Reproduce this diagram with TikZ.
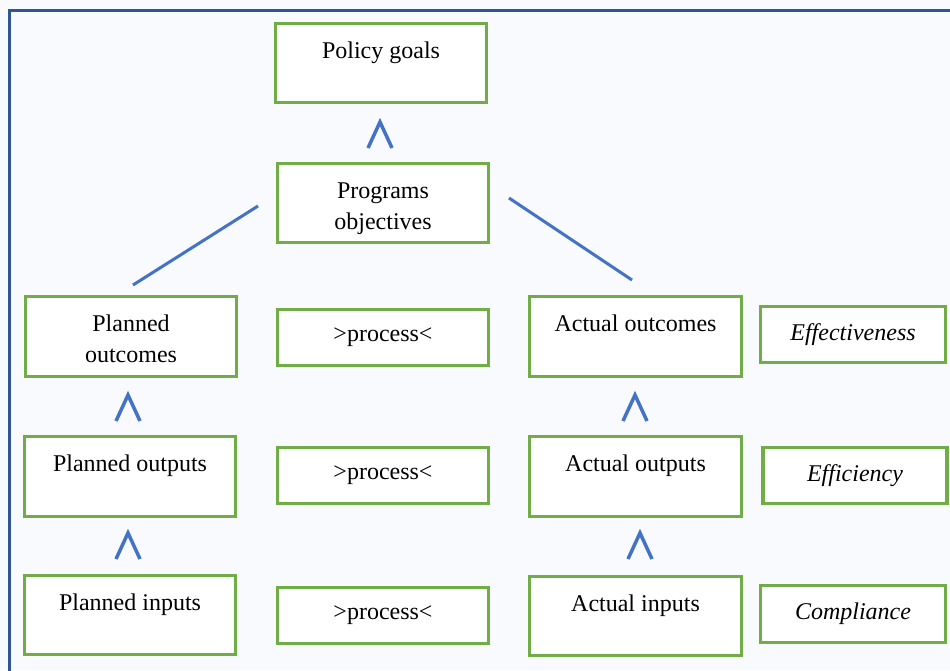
\documentclass[tikz,border=0pt]{standalone}
\usepackage{fontspec}
\setmainfont{Liberation Serif}
\usetikzlibrary{calc}
\definecolor{boxgreen}{HTML}{70AD47}
\definecolor{lineblue}{HTML}{4472C4}
\definecolor{framblue}{HTML}{2F5597}
\definecolor{paper}{HTML}{F8FAFD}

\begin{document}
\begin{tikzpicture}[x=1pt,y=-1pt]
   \tikzset{box/.style 2 args={draw=boxgreen, line width=3.5pt, fill=white, minimum width=#1, minimum height=#2, inner sep=0pt},
            txt/.style={font=\fontsize{24}{31}\selectfont, align=center, inner sep=0pt, anchor=base},
            chev/.style={lineblue, line width=3.5pt},
            link/.style={lineblue, line width=3pt}};

\useasboundingbox[fill=paper] (0,0) rectangle (950,670);
\draw[framblue, line width=3pt] (9,672) -- (9,10) -- (952,10);

%boxes--------------------------
\node[box={211pt}{79pt}] (goal) at (381,63) {};
\node[box={211pt}{79pt}] (obj) at (383,203) {};

\node[box={211pt}{80pt}] (pout) at (131,336.5) {};
\node[box={211pt}{80pt}] (pop) at (130,476.5) {};
\node[box={211pt}{79pt}] (pin) at (130,615) {};

\foreach \i/\y in {1/337.5, 2/475.5, 3/615.5}{
    \node[box={211pt}{56pt}] (pr\i) at (383,\y) {};
    \node[txt, anchor=center] (pr\i-t) at (pr\i) {>process<};
}

\node[box={212pt}{80pt}] (aout) at (635.5,336.5) {};
\node[box={212pt}{80pt}] (aop) at (635.5,476.5) {};
\node[box={212pt}{79pt}] (ain) at (635.5,616) {};

\node[box={185pt}{56pt}] (eff) at (853,334.5) {};
\node[box={184pt}{56pt}] (effi) at (855,475.5) {};
\node[box={185pt}{57pt}] (comp) at (853,614) {};

%texts-------------------------
\node[txt] (goal-t) at ([yshift=-37pt]goal.north) {Policy goals};
\node[txt] (obj-t) at ([yshift=-68pt]obj.north) {Programs\\objectives};
\node[txt] (pout-t) at ([yshift=-68pt]pout.north) {Planned\\outcomes};
\node[txt] (pop-t) at ([yshift=-37pt]pop.north) {Planned outputs};
\node[txt] (pin-t) at ([yshift=-37pt]pin.north) {Planned inputs};
\node[txt] (aout-t) at ([yshift=-37pt]aout.north) {Actual outcomes};
\node[txt] (aop-t) at ([yshift=-37pt]aop.north) {Actual outputs};
\node[txt] (ain-t) at ([yshift=-37pt]ain.north) {Actual inputs};

\node[txt, anchor=center, font=\fontsize{24}{31}\selectfont\itshape] (eff-t) at (eff) {Effectiveness};
\node[txt, anchor=center, font=\fontsize{24}{31}\selectfont\itshape] (effi-t) at (effi) {Efficiency};
\node[txt, anchor=center, font=\fontsize{24}{31}\selectfont\itshape] (comp-t) at (comp) {Compliance};

%links-------------------------
\coordinate (l1) at (258,206);
\coordinate (l2) at (133,285);
\coordinate (r1) at (509,198);
\coordinate (r2) at (632,280);
\draw[link] (l1) -- (l2);
\draw[link] (r1) -- (r2);

\foreach \x/\y in {380/122, 128/395, 635/395, 128/533, 640/533}{
    \draw[chev] (\x-12,\y+26) -- (\x,\y) -- (\x+12,\y+26);
}

\end{tikzpicture}
\end{document}
